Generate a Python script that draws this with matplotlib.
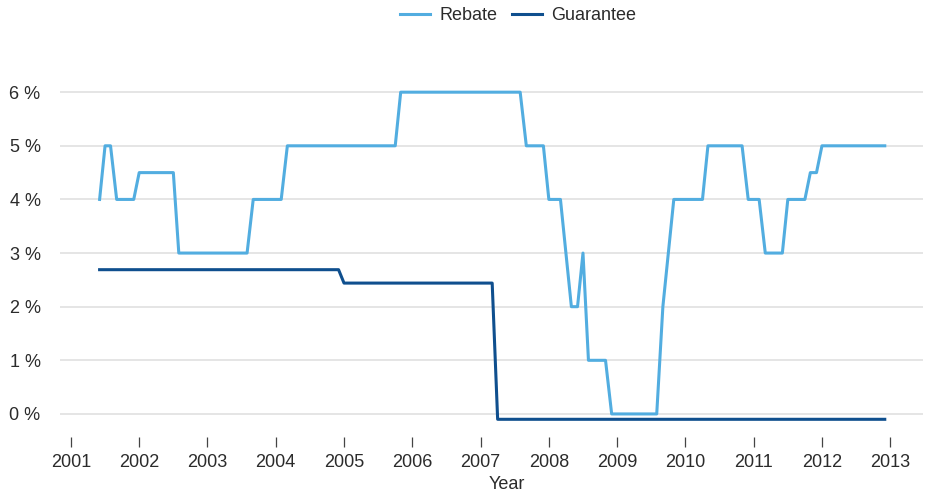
import matplotlib
matplotlib.use("Agg")
import matplotlib.pyplot as plt
from matplotlib.ticker import FuncFormatter

plt.rcParams["font.family"] = ["Liberation Sans", "DejaVu Sans"]

# monthly step points, fractional years
rebate_x = [2001.42, 2001.50, 2001.58, 2001.67, 2001.92, 2002.00, 2002.50, 2002.58,
            2003.58, 2003.67, 2004.08, 2004.17, 2005.75, 2005.83, 2007.58, 2007.67,
            2007.92, 2008.00, 2008.17, 2008.25, 2008.33, 2008.42, 2008.50, 2008.58,
            2008.83, 2008.92, 2009.58, 2009.67, 2009.75, 2009.83, 2010.25, 2010.33,
            2010.83, 2010.92, 2011.08, 2011.17, 2011.42, 2011.50, 2011.75, 2011.83,
            2011.92, 2012.00, 2012.92]
rebate_y = [4.0, 5.0, 5.0, 4.0, 4.0, 4.5, 4.5, 3.0,
            3.0, 4.0, 4.0, 5.0, 5.0, 6.0, 6.0, 5.0,
            5.0, 4.0, 4.0, 3.0, 2.0, 2.0, 3.0, 1.0,
            1.0, 0.0, 0.0, 2.0, 3.0, 4.0, 4.0, 5.0,
            5.0, 4.0, 4.0, 3.0, 3.0, 4.0, 4.0, 4.5,
            4.5, 5.0, 5.0]

guarantee_x = [2001.42, 2004.92, 2005.00, 2007.17, 2007.25, 2012.92]
guarantee_y = [2.69, 2.69, 2.44, 2.44, -0.10, -0.10]

years = list(range(2001, 2014))
pct_ticks = [0, 1, 2, 3, 4, 5, 6]

text_col = "#2b2b2b"

fig = plt.figure(figsize=(9.47, 4.97), dpi=100)
ax = fig.add_axes([60 / 947, 1 - 437 / 497, 863 / 947, 377 / 497])

ax.plot(rebate_x, rebate_y, color="#52ade0", lw=2.2, label="Rebate")
ax.plot(guarantee_x, guarantee_y, color="#0f4f8e", lw=2.2, label="Guarantee")

ax.set_xlim(2000.84, 2013.48)
ax.set_ylim(-0.43, 6.6)
ax.set_xticks(years)
ax.set_yticks(pct_ticks)
ax.yaxis.set_major_formatter(FuncFormatter(lambda v, p: f"{v:.0f} %"))

ax.grid(axis="y", color="#e0e0e0", lw=1.2)
ax.set_axisbelow(True)
for s in ax.spines.values():
    s.set_visible(False)

ax.tick_params(axis="x", length=7.5, width=0.9, color="#444444", pad=5,
               labelsize=13, labelcolor=text_col)
ax.tick_params(axis="y", length=0, pad=14, labelsize=13, labelcolor=text_col)

ax.set_xlabel("Year", fontsize=13, color=text_col)
ax.xaxis.set_label_coords(0.518, -0.103)

fig.legend(loc="upper center", bbox_to_anchor=(518 / 947, 1.018), ncol=2,
           frameon=False, fontsize=13, handlelength=1.7, columnspacing=0.8,
           handletextpad=0.5, labelcolor=text_col)

fig.savefig("out.png", dpi=100)
